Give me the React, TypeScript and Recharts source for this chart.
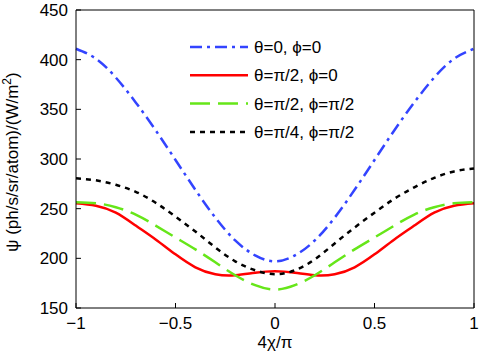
import React from 'react';
import { LineChart, Line, XAxis, YAxis } from 'recharts';

const xs = [-1, -0.9, -0.8, -0.7, -0.6, -0.5, -0.4, -0.3, -0.2, -0.1, 0, 0.1, 0.2, 0.3, 0.4, 0.5, 0.6, 0.7, 0.8, 0.9, 1];
const blue = [411, 401, 382, 357, 329, 299, 269, 241, 218, 203, 197, 203, 218, 241, 269, 299, 329, 357, 382, 401, 411];
const red = [255.5, 253, 246, 233, 219, 204, 191, 184, 183, 185.5, 187, 185.5, 183, 184, 191, 204, 219, 233, 246, 253, 255.5];
const green = [256.5, 255.5, 251.5, 244, 233, 221, 209, 196, 183, 173, 168.6, 173, 183, 196, 209, 221, 233, 244, 251.5, 255.5, 256.5];
const black = [280.5, 278.5, 274, 267, 256, 242, 227, 211, 197, 188, 184, 188, 199, 215, 231, 246, 260, 271.5, 281, 287.5, 290.5];

const xTicks = [-1, -0.5, 0, 0.5, 1];
const xTickLabels = ['\u22121', '\u22120.5', '0', '0.5', '1'];
const yTicks = [150, 200, 250, 300, 350, 400, 450];
const xRange = [-1, 1];
const yRange = [150, 450];

const seriesNames = ['\u03b8=0, \u03d5=0', '\u03b8=\u03c0/2, \u03d5=0', '\u03b8=\u03c0/2, \u03d5=\u03c0/2', '\u03b8=\u03c0/4, \u03d5=\u03c0/2'];

const data = xs.map((x, i) => ({ x, blue: blue[i], red: red[i], green: green[i], black: black[i] }));

const SERIES = [
  { key: 'blue', name: seriesNames[0], color: '#3344ff', dash: '12 5 3 5' },
  { key: 'red', name: seriesNames[1], color: '#ff0000', dash: undefined as string | undefined },
  { key: 'green', name: seriesNames[2], color: '#66e619', dash: '20 8' },
  { key: 'black', name: seriesNames[3], color: '#000000', dash: '5 5' },
];

const FONT = '"Liberation Sans", Arial, Helvetica, sans-serif';
const FS = 17;

const W = 480;
const H = 361;
const TOP_AXIS_H = 10;
const RIGHT_AXIS_W = 6;
const Y_AXIS_W = 76;
const X_AXIS_H = 53;

const fmtX = (v: number) => {
  const idx = xTicks.indexOf(v);
  return idx >= 0 ? xTickLabels[idx] : String(v);
};

const LegendOverlay = () => (
  <svg width={200} height={120} style={{ position: 'absolute', left: 185, top: 30, overflow: 'visible', zIndex: 3 }}>
    {SERIES.map((s, i) => {
      const cy = 17 + i * 28.3;
      return (
        <g key={s.key}>
          <line x1={5} x2={63} y1={cy} y2={cy} stroke={s.color} strokeWidth={2.5} strokeDasharray={s.dash} />
          <text x={69} y={cy} dy="0.36em" fontSize={FS} fontFamily={FONT} fill="#000">
            {s.name}
          </text>
        </g>
      );
    })}
  </svg>
);

const YLabel = () => (
  <text x={17.5} y={162} transform="rotate(-90 17.5 162)" textAnchor="middle" fontSize={FS} fontFamily={FONT} fill="#000">
    <tspan>{'\u03c8  (ph/s/sr/atom)/(W/m'}</tspan>
    <tspan dy={-7} fontSize={12}>2</tspan>
    <tspan dy={7}>)</tspan>
  </text>
);

const XLabel = () => (
  <text x={275} y={348} textAnchor="middle" fontSize={FS} fontFamily={FONT} fill="#000">
    {'4\u03c7/\u03c0'}
  </text>
);

const axisTick = { fontSize: FS, fontFamily: FONT, fill: '#000' };

export default function App() {
  return (
    <div style={{ position: 'absolute', left: 0, top: 0, width: W, height: H, background: '#fff' }}>
      <LineChart width={W} height={H} data={data} margin={{ top: 0, right: 0, left: 0, bottom: 0 }}>
        <XAxis
          dataKey="x"
          type="number"
          domain={xRange}
          ticks={xTicks}
          height={X_AXIS_H}
          tickSize={-5}
          tickMargin={14}
          stroke="#000"
          axisLine={{ stroke: '#000' }}
          tickLine={{ stroke: '#000' }}
          tick={axisTick}
          tickFormatter={fmtX}
          label={<XLabel />}
        />
        <XAxis
          xAxisId="top"
          orientation="top"
          dataKey="x"
          type="number"
          domain={xRange}
          ticks={xTicks}
          height={TOP_AXIS_H}
          tickSize={-5}
          stroke="#000"
          axisLine={{ stroke: '#000' }}
          tickLine={{ stroke: '#000' }}
          tick={false}
        />
        <YAxis
          type="number"
          domain={yRange}
          ticks={yTicks}
          width={Y_AXIS_W}
          tickSize={-5}
          tickMargin={13}
          stroke="#000"
          axisLine={{ stroke: '#000' }}
          tickLine={{ stroke: '#000' }}
          tick={axisTick}
          label={<YLabel />}
        />
        <YAxis
          yAxisId="right"
          orientation="right"
          type="number"
          domain={yRange}
          ticks={yTicks}
          width={RIGHT_AXIS_W}
          tickSize={-5}
          stroke="#000"
          axisLine={{ stroke: '#000' }}
          tickLine={{ stroke: '#000' }}
          tick={false}
        />
        {SERIES.map((s) => (
          <Line
            key={s.key}
            dataKey={s.key}
            name={s.name}
            type="natural"
            stroke={s.color}
            strokeWidth={2.5}
            strokeDasharray={s.dash}
            dot={false}
            isAnimationActive={false}
          />
        ))}
      </LineChart>
      <LegendOverlay />
    </div>
  );
}
